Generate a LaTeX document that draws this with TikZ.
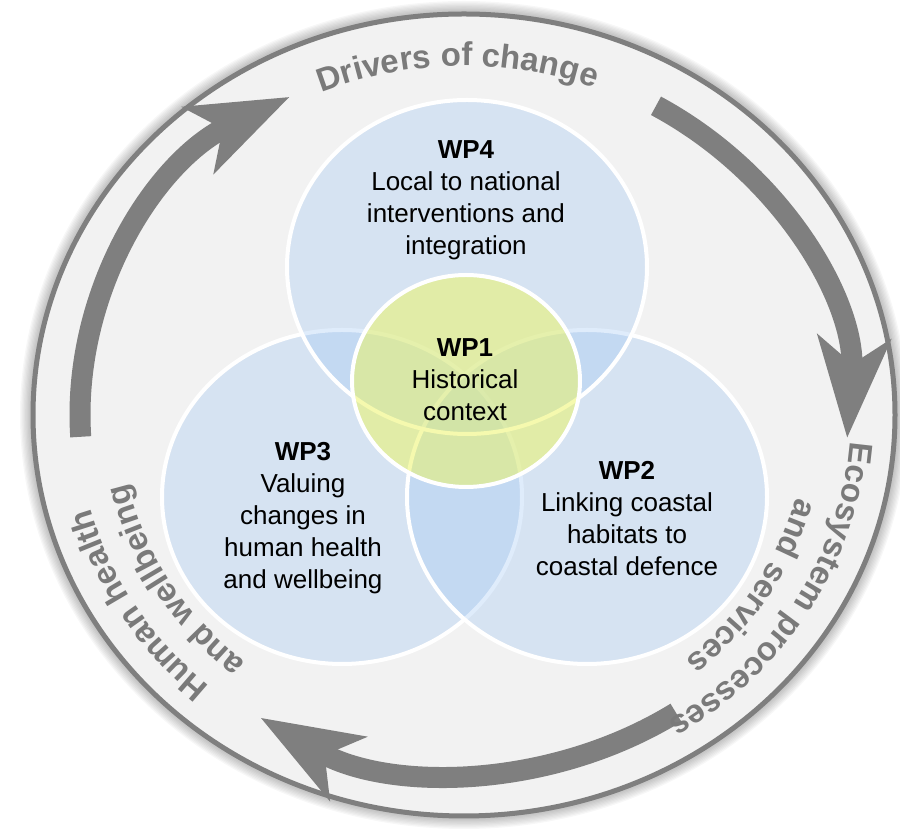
\documentclass[tikz,border=0pt]{standalone}
\usepackage{fontspec}
\setmainfont{Liberation Sans}
\usetikzlibrary{calc,arrows.meta,decorations.text}
\definecolor{ringgray}{RGB}{127,127,127}
\definecolor{ringfill}{RGB}{242,242,242}
\definecolor{labgray}{RGB}{122,122,122}
\definecolor{wpblue}{RGB}{152,195,245}
\definecolor{wpyellow}{RGB}{236,245,100}
\tikzset{
  wp circle/.style={draw=white,line width=2pt,fill=wpblue,fill opacity=0.3},
  core circle/.style={draw=white,line width=2pt,fill=wpyellow,fill opacity=0.52},
  cycle arrow/.style={ringgray,line width=10.5pt,-{Stealth[length=50pt,width=36pt,inset=13pt]}},
  wp text/.style={align=center,inner sep=0pt,font=\fontsize{13}{16}\selectfont},
  ring text/.style={decorate,decoration={text along path,text align=center,text color=labgray,
    text={|\fontsize{16.5}{16.5}\selectfont\bfseries|#1}}}
}
\begin{document}
\begin{tikzpicture}[x=0.5pt,y=0.5pt]
  \useasboundingbox (0,0) rectangle (900,829);
  \coordinate (o) at (464,414);
  % Outer ring and its shadow
  \foreach \d in {1,...,10} {
    \fill[black,opacity=0.03] (o) ellipse [x radius=431+1.3*\d, y radius=401+1.3*\d];
  }
  \filldraw[fill=ringfill,draw=ringgray,line width=2.5pt] (o) ellipse [x radius=431, y radius=401];
  % Cycle arrows
  \draw[cycle arrow] ($(o)+(183.5:384 and 357)$) arc[start angle=183.5,end angle=117,x radius=384,y radius=357];
  \draw[cycle arrow] ($(o)+(60:384 and 357)$) arc[start angle=60,end angle=-3.7,x radius=384,y radius=357];
  \draw[cycle arrow] ($(o)+(-56.5:384 and 357)$) arc[start angle=-56.5,end angle=-122,x radius=384,y radius=357];
  % Ring labels
  \path[ring text={Drivers of change}] ($(o)+(121:375 and 349)$) arc[start angle=121,end angle=61,x radius=375,y radius=349];
  \path[ring text={Ecosystem processes}] ($(o)+(4:387 and 360)$) arc[start angle=4,end angle=-66,x radius=387,y radius=360];
  \path[ring text={and services}] ($(o)+(3:344 and 320)$) arc[start angle=3,end angle=-67,x radius=344,y radius=320];
  \path[ring text={Human health}] ($(o)+(246.5:387 and 360)$) arc[start angle=246.5,end angle=176.5,x radius=387,y radius=360];
  \path[ring text={and wellbeing}] ($(o)+(246:344 and 320)$) arc[start angle=246,end angle=176,x radius=344,y radius=320];
  % Work package circles (WP3, WP2, WP4, then WP1 on top)
  \foreach \cx/\cy in {342/332, 587/332, 467/562} {
    \draw[wp circle] (\cx,\cy) ellipse [x radius=180, y radius=167];
  }
  \draw[core circle] (466,448) ellipse [x radius=114, y radius=106];
  % Work package texts
  \node[wp text] (wp4) at (466,629) {\textbf{WP4}\\Local to national\\interventions and\\integration};
  \node[wp text] (wp1) at (465,449) {\textbf{WP1}\\Historical\\context};
  \node[wp text] (wp3) at (303,311) {\textbf{WP3}\\Valuing\\changes in\\human health\\and wellbeing};
  \node[wp text] (wp2) at (627,310) {\textbf{WP2}\\Linking coastal\\habitats to\\coastal defence};
\end{tikzpicture}
\end{document}
